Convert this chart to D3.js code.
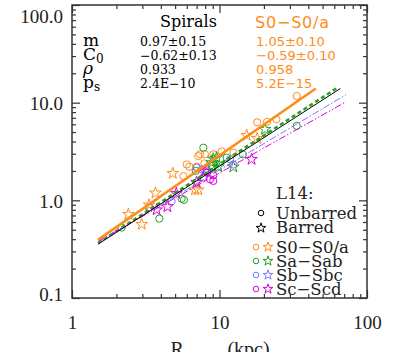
<!DOCTYPE html>
<html><head><meta charset="utf-8">
<script src="https://cdn.jsdelivr.net/npm/d3@7"></script>
<style>body{margin:0;background:#fff}</style>
</head><body>
<script>
// ---------------- data ----------------
const xTickVals = [1, 10, 100];
const xTickLabels = ["1", "10", "100"];
const yTickVals = [0.1, 1, 10, 100];
const yTickLabels = ["0.1", "1.0", "10.0", "100.0"];

const typeNames = ["S0−S0/a", "Sa−Sab", "Sb−Sbc", "Sc−Scd"];
const typeColors = ["#ff8c1a", "#22a022", "#7878ff", "#dd00dd"];

// [R (kpc), y]
const s0Unbarred = [[33.4,11.7],[18.0,6.3],[21.0,6.36],[24.3,6.75],[7.38,2.96],[7.97,2.96],[9.08,2.96],[10.35,3.17],[12.41,3.08],[7.18,2.84],[5.99,2.33],[7.0,2.21],[7.9,2.39],[6.24,2.21],[5.69,1.77]];
const s0Barred = [[2.41,0.72],[2.97,0.568],[3.68,1.19],[3.33,0.90],[4.82,1.89],[6.82,1.28],[7.18,1.28],[15.3,4.63],[18.0,4.31]];
const saUnbarred = [[2.17,0.526],[3.91,0.65],[5.54,1.04],[5.74,1.01],[6.9,2.0],[7.77,3.46],[11.19,2.74],[14.4,2.96],[33.4,5.79]];
const saBarred = [[20.3,5.33],[8.85,2.43],[9.57,2.74],[9.08,2.66],[8.85,2.24],[9.82,2.21],[12.41,2.20]];
const sbUnbarred = [[3.34,0.85],[4.74,0.98],[7.0,2.16],[7.57,2.08],[11.78,2.63],[12.41,2.33]];
const sbBarred = [[8.1,2.03]];
const scUnbarred = [[8.19,1.92],[8.62,1.64],[7.77,1.71],[9.08,1.58],[9.08,1.80]];
const scBarred = [[3.75,0.80],[4.43,0.86],[5.1,1.18],[7.0,1.53],[16.5,2.63],[7.97,1.98]];

// fit lines: log y = m log x + C0
const fitNames = ["S0−S0/a", "Spirals", "Sa−Sab", "Sb−Sbc", "Sc−Scd"];
const fitSlopes = [1.05, 0.97, 0.98, 0.90, 0.85];
const fitIntercepts = [-0.59, -0.62, -0.61, -0.59, -0.57];
const fitXmin = [1.5, 1.5, 1.5, 1.5, 1.5];
const fitXmax = [45, 66, 63, 72, 72];

const statLabels = ["m", "C", "ρ", "p"];
const statSubs = ["", "0", "", "s"];
const spiralStats = ["0.97±0.15", "−0.62±0.13", "0.933", "2.4E−10"];
const s0Stats = ["1.05±0.10", "−0.59±0.10", "0.958", "5.2E−15"];

// ---------------- chart ----------------
const W = 399, H = 352;
const svg = d3.select("body").append("svg").attr("width", W).attr("height", H);
const x = d3.scaleLog().domain([1, 100]).range([72, 367]);
const y = d3.scaleLog().domain([0.1, 100]).range([298, 5]);
const axisColor = "#333";

function minors(lo, hi) {
  const out = [];
  for (let d = lo; d < hi; d *= 10) for (let k = 2; k <= 9; k++) out.push(d * k);
  return out;
}
const xMinor = minors(1, 100), yMinor = minors(0.1, 100);

function styleAxis(g) {
  g.selectAll("path").remove();
  g.selectAll("line").attr("stroke", axisColor).attr("stroke-width", 1.2);
}
// bottom
svg.append("g").attr("transform", "translate(0,298)")
  .call(d3.axisBottom(x).tickValues(xMinor).tickSizeInner(-4).tickSizeOuter(0).tickFormat(""))
  .call(styleAxis);
const gxb = svg.append("g").attr("transform", "translate(0,298)")
  .call(d3.axisBottom(x).tickValues(xTickVals).tickSizeInner(-8).tickSizeOuter(0)
        .tickFormat((d, i) => xTickLabels[i]))
  .call(styleAxis);
gxb.selectAll("text").attr("y", 31).attr("dy", 0)
  .attr("font-family", "Liberation Serif").attr("font-size", 19).attr("fill", "#222");
// top
svg.append("g").attr("transform", "translate(0,5)")
  .call(d3.axisTop(x).tickValues(xMinor).tickSizeInner(-4).tickSizeOuter(0).tickFormat(""))
  .call(styleAxis);
svg.append("g").attr("transform", "translate(0,5)")
  .call(d3.axisTop(x).tickValues(xTickVals).tickSizeInner(-8).tickSizeOuter(0).tickFormat(""))
  .call(styleAxis);
// left
svg.append("g").attr("transform", "translate(72,0)")
  .call(d3.axisLeft(y).tickValues(yMinor).tickSizeInner(-4).tickSizeOuter(0).tickFormat(""))
  .call(styleAxis);
const gyl = svg.append("g").attr("transform", "translate(72,0)")
  .call(d3.axisLeft(y).tickValues(yTickVals).tickSizeInner(-8).tickSizeOuter(0).tickPadding(9)
        .tickFormat((d, i) => yTickLabels[i]))
  .call(styleAxis);
gyl.selectAll("text").attr("dy", 0)
  .attr("y", (d, i) => i === yTickVals.length - 1 ? 17 : (i === 0 ? 2 : 7))
  .attr("font-family", "Liberation Serif").attr("font-size", 19).attr("fill", "#222");
// right
svg.append("g").attr("transform", "translate(367,0)")
  .call(d3.axisRight(y).tickValues(yMinor).tickSizeInner(-4).tickSizeOuter(0).tickFormat(""))
  .call(styleAxis);
svg.append("g").attr("transform", "translate(367,0)")
  .call(d3.axisRight(y).tickValues(yTickVals).tickSizeInner(-8).tickSizeOuter(0).tickFormat(""))
  .call(styleAxis);
// frame
svg.append("rect").attr("x", x(1)).attr("y", y(100))
  .attr("width", x(100) - x(1)).attr("height", y(0.1) - y(100))
  .attr("fill", "none").attr("stroke", axisColor).attr("stroke-width", 1.5);

// axis title (mostly cut off at bottom)
const xt = svg.append("text").attr("x", 220).attr("y", 356).attr("text-anchor", "middle")
  .attr("font-family", "Liberation Serif").attr("font-size", 20).attr("fill", "#222");
xt.append("tspan").text("R");
xt.append("tspan").attr("font-size", 13).attr("dy", 4).text("25,max");
xt.append("tspan").attr("dy", -4).text(" (kpc)");

// points
const star = d3.symbol().type(d3.symbolStar).size(42);
const groups = [
  [s0Unbarred, s0Barred], [saUnbarred, saBarred], [sbUnbarred, sbBarred], [scUnbarred, scBarred]
];
const pts = svg.append("g");
groups.forEach((g, i) => {
  pts.selectAll(null).data(g[0]).enter().append("circle")
    .attr("cx", d => x(d[0])).attr("cy", d => y(d[1])).attr("r", 3.6)
    .attr("fill", "none").attr("stroke", typeColors[i]).attr("stroke-width", 1);
  pts.selectAll(null).data(g[1]).enter().append("path")
    .attr("d", star).attr("transform", d => `translate(${x(d[0])},${y(d[1])})`)
    .attr("fill", "none").attr("stroke", typeColors[i]).attr("stroke-width", 1);
});

// fit lines
const lineColors = [typeColors[0], "#000", typeColors[1], typeColors[2], typeColors[3]];
const lineWidths = [2.5, 1, 2.5, 1, 1];
const lineDash = [null, null, "4,3", "7,2,1.5,2", "7,2,1.5,2,1.5,2"];
const lineOrder = [2, 3, 4, 1, 0];
const line = d3.line().x(d => x(d[0])).y(d => y(d[1]));
lineOrder.forEach(i => {
  const f = v => Math.pow(10, fitSlopes[i] * Math.log10(v) + fitIntercepts[i]);
  const seg = [[fitXmin[i], f(fitXmin[i])], [fitXmax[i], f(fitXmax[i])]];
  svg.append("path").attr("d", line(seg)).attr("fill", "none")
    .attr("stroke", lineColors[i]).attr("stroke-width", lineWidths[i])
    .attr("stroke-dasharray", lineDash[i]);
});

// stats block
const rowY = [46, 60, 74, 88];
const lab = svg.append("g").attr("font-family", "DejaVu Serif").attr("font-size", 17).attr("fill", "#000");
statLabels.forEach((s, i) => {
  const t = lab.append("text").attr("x", 83).attr("y", rowY[i]);
  t.append("tspan").attr("font-style", s === "ρ" ? "italic" : null).text(s);
  if (statSubs[i]) t.append("tspan").attr("font-size", 12).attr("dy", 3).text(statSubs[i]);
});
svg.append("text").attr("x", 160).attr("y", 27).attr("font-family", "DejaVu Serif")
  .attr("font-size", 16).attr("fill", "#000").text("Spirals");
svg.append("text").attr("x", 255).attr("y", 28).attr("font-family", "DejaVu Sans")
  .attr("font-size", 16).attr("letter-spacing", 0.8).attr("fill", typeColors[0]).text("S0−S0/a");
spiralStats.forEach((s, i) => {
  svg.append("text").attr("x", 140).attr("y", rowY[i]).attr("font-family", "DejaVu Serif")
    .attr("font-size", 12.5).attr("fill", "#000").text(s);
});
s0Stats.forEach((s, i) => {
  svg.append("text").attr("x", 256).attr("y", rowY[i]).attr("font-family", "DejaVu Sans")
    .attr("font-size", 13).attr("fill", typeColors[0]).text(s);
});

// legend
const leg = svg.append("g").attr("font-family", "DejaVu Serif").attr("font-size", 16.5).attr("fill", "#222");
leg.append("text").attr("x", 276).attr("y", 199).text("L14:");
leg.append("circle").attr("cx", 261).attr("cy", 213).attr("r", 2.8).attr("fill", "none").attr("stroke", "#000");
leg.append("text").attr("x", 276).attr("y", 219).text("Unbarred");
leg.append("path").attr("d", d3.symbol().type(d3.symbolStar).size(30)).attr("transform", "translate(261,228)")
  .attr("fill", "none").attr("stroke", "#000");
leg.append("text").attr("x", 276).attr("y", 233).text("Barred");
typeNames.forEach((n, i) => {
  const yy = 247 + i * 14;
  leg.append("circle").attr("cx", 256).attr("cy", yy).attr("r", 2.8).attr("fill", "none").attr("stroke", typeColors[i]);
  leg.append("path").attr("d", d3.symbol().type(d3.symbolStar).size(30)).attr("transform", `translate(268,${yy})`)
    .attr("fill", "none").attr("stroke", typeColors[i]);
  leg.append("text").attr("x", 276).attr("y", yy + 6).text(n);
});
</script>
</body></html>
